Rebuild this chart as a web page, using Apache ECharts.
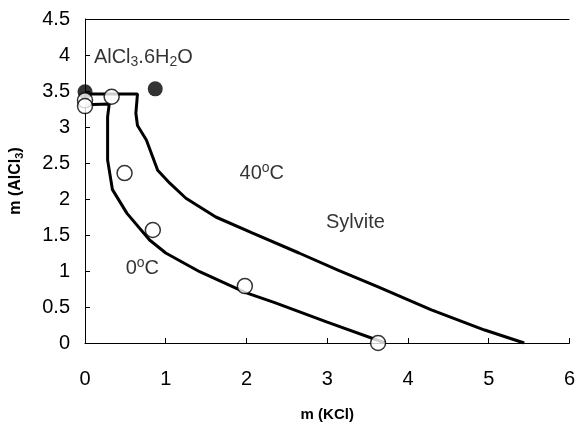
<!DOCTYPE html>
<html>
<head>
<meta charset="utf-8">
<script src="https://cdn.jsdelivr.net/npm/echarts@6/dist/echarts.min.js"></script>
<style>
  html, body { margin: 0; padding: 0; background: #fff; }
  #chart { width: 578px; height: 433px; }
</style>
</head>
<body>
<div id="chart"></div>
<script>
// solubility isotherms, KCl - AlCl3 - H2O
const curve40 = [
  [0, 3.46], [0.65, 3.46], [0.63, 3.19], [0.65, 3.02], [0.76, 2.82], [0.9, 2.4],
  [1.05, 2.22], [1.25, 2.01], [1.62, 1.75], [2.07, 1.53], [2.65, 1.25],
  [3.14, 1.01], [3.63, 0.78], [4.29, 0.46], [4.95, 0.18], [5.44, 0]
]
const curve0 = [
  [0, 3.31], [0.3, 3.32], [0.28, 3.14], [0.28, 2.54], [0.34, 2.13], [0.52, 1.8],
  [0.8, 1.43], [1.0, 1.25], [1.42, 0.99], [1.99, 0.7], [2.35, 0.56],
  [3.0, 0.29], [3.72, 0]
]
const openPts = [
  [0, 3.37], [0, 3.29], [0.33, 3.42], [0.49, 2.36], [0.84, 1.57], [1.98, 0.79], [3.63, 0]
]
const solidPts = [
  [0, 3.49], [0.87, 3.53]
]
const xTicks = [0, 1, 2, 3, 4, 5, 6]
const yTicks = [0, 0.5, 1, 1.5, 2, 2.5, 3, 3.5, 4, 4.5]
const notes = [
  { value: [0.11, 3.96], text: '{n|AlCl}{s|3}{n|.6H}{s|2}{n|O}', align: 'left' },
  { value: [2.19, 2.36], text: '{n|40}{p|o}{n|C}', align: 'center' },
  { value: [3.35, 1.67], text: '{n|Sylvite}', align: 'center' },
  { value: [0.71, 1.04], text: '{n|0}{p|o}{n|C}', align: 'center' }
]

const font = 'Liberation Sans, Arial, sans-serif'
const chart = echarts.init(document.getElementById('chart'))

const richText = {
  n: { fontSize: 20, color: '#000', fontFamily: font },
  s: { fontSize: 14, color: '#000', fontFamily: font, verticalAlign: 'bottom', padding: [9, 0, 0, 0] },
  p: { fontSize: 14, color: '#000', fontFamily: font, verticalAlign: 'top', padding: [0, 0, 9, 0] }
}

// only the split line at the top of the y axis is drawn (the plot's top frame)
const splitColors = yTicks.map(v => v === 4.5 ? '#000' : 'rgba(0,0,0,0)')

const option = {
  animation: false,
  backgroundColor: '#fff',
  grid: {
    left: 85,
    right: 6,
    top: 19,
    bottom: 90,
  },
  xAxis: {
    type: 'value',
    min: 0,
    max: 6,
    interval: 1,
    name: 'm (KCl)',
    nameLocation: 'middle',
    nameGap: 64,
    nameTextStyle: {
      fontFamily: font,
      fontWeight: 'bold',
      fontSize: 15,
      color: '#000',
    },
    axisLine: { show: true, onZero: false, lineStyle: { color: '#000', width: 1 } },
    axisTick: { inside: true, length: 5, lineStyle: { color: '#000' } },
    axisLabel: {
      margin: 26,
      fontFamily: font,
      fontSize: 20,
      color: '#000',
      formatter: v => xTicks.includes(v) ? String(v) : '',
    },
    splitLine: { show: false },
  },
  yAxis: {
    type: 'value',
    min: 0,
    max: 4.5,
    interval: 0.5,
    name: '{b|m (AlCl}{bs|3}{b|)}',
    nameLocation: 'middle',
    nameGap: 60,
    nameRotate: 90,
    nameTextStyle: {
      rich: {
        b: { fontFamily: font, fontWeight: 'bold', fontSize: 16, color: '#000' },
        bs: { fontFamily: font, fontWeight: 'bold', fontSize: 11, color: '#000', verticalAlign: 'bottom', padding: [7, 0, 0, 0] }
      }
    },
    axisLine: { show: true, onZero: false, lineStyle: { color: '#000', width: 1 } },
    axisTick: { inside: true, length: 5, lineStyle: { color: '#000' } },
    axisLabel: {
      margin: 15,
      fontFamily: font,
      fontSize: 20,
      color: '#000',
      formatter: v => yTicks.includes(v) ? String(v) : '',
    },
    splitLine: {
      show: true,
      showMaxLine: true,
      lineStyle: { color: splitColors, width: 1.2, type: 'solid' },
    },
  },
  series: [{
    name: '40C',
    type: 'line',
    symbol: 'none',
    smooth: false,
    lineStyle: { color: '#000', width: 3 },
    data: curve40,
    z: 2,
  }, {
    name: '0C',
    type: 'line',
    symbol: 'none',
    smooth: false,
    lineStyle: { color: '#000', width: 3 },
    data: curve0,
    z: 2,
  }, {
    type: 'scatter',
    symbol: 'circle',
    symbolSize: 15,
    itemStyle: { color: '#fff', borderColor: '#000', borderWidth: 1.5 },
    data: openPts,
    z: 4,
  }, {
    type: 'scatter',
    symbol: 'circle',
    symbolSize: 15,
    itemStyle: { color: '#000' },
    data: solidPts,
    z: 3,
  }, {
    type: 'scatter',
    symbolSize: 0,
    silent: true,
    data: notes.map(n => ({
      value: n.value,
      label: {
        show: true,
        position: 'inside',
        align: n.align,
        verticalAlign: 'middle',
        formatter: n.text,
        rich: richText,
      },
    })),
    z: 5,
  }],
}
chart.setOption(option)
</script>
</body>
</html>
